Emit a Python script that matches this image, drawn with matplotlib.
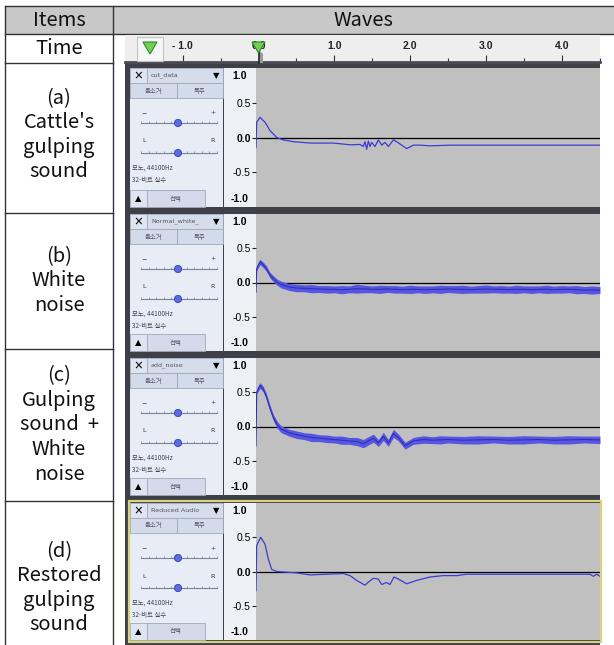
import numpy as np
import matplotlib
matplotlib.use("Agg")
import matplotlib.pyplot as plt
from matplotlib.patches import Rectangle, Circle, Polygon

plt.rcParams['font.family'] = ['Noto Sans CJK KR', 'DejaVu Sans']

W, H = 614, 645

# ---- data ----
header_items = "Items"
header_waves = "Waves"
time_label = "Time"
row_labels = ["(a)\nCattle's\ngulping\nsound",
              "(b)\nWhite\nnoise",
              "(c)\nGulping\nsound  +\nWhite\nnoise",
              "(d)\nRestored\ngulping\nsound"]
track_names = ["cut_data", "Normal_white_", "add_noise", "Reduced Audio"]

ruler_ticks = [-1, 0, 1, 2, 3, 4]
ruler_minor = [-0.5, 0.5, 1.5, 2.5, 3.5, 4.5]
ruler_labels = ["- 1.0", "0.0", "1.0", "2.0", "3.0", "4.0"]

scale_ticks = [0.5, 0.0, -0.5]
scale_labels = ["0.5", "0.0", "-0.5"]

# (a) cattle's gulping sound
t_a = [-0.033, -0.024, 0.020, 0.086, 0.152, 0.240, 0.328, 0.460, 0.679, 0.987,
       1.207, 1.339, 1.383, 1.405, 1.427, 1.449, 1.471, 1.493, 1.537, 1.581,
       1.625, 1.669, 1.713, 1.779, 1.823, 1.889, 1.955, 2.042, 2.131, 2.263,
       2.526, 4.066, 4.505]
v_a = [-0.145, 0.22, 0.29, 0.22, 0.10, 0.0, -0.035, -0.06, -0.08, -0.08,
       -0.105, -0.10, -0.13, -0.06, -0.17, -0.05, -0.13, -0.07, -0.13, -0.035,
       -0.11, -0.07, -0.13, -0.035, -0.06, -0.11, -0.16, -0.11, -0.11, -0.12,
       -0.11, -0.11, -0.11]

# (b) white noise: centre line and half width of the band
t_b = [-0.033, -0.024, 0.0, 0.02, 0.06, 0.10, 0.15, 0.20, 0.25, 0.3,
       0.4, 0.5, 0.6, 0.7, 0.8, 0.9, 1.0, 1.1, 1.2, 1.3,
       1.4, 1.5, 1.6, 1.7, 1.8, 1.9, 2.0, 2.1, 2.2, 2.3,
       2.4, 2.5, 2.6, 2.7, 2.8, 2.9, 3.0, 3.1, 3.2, 3.3,
       3.4, 3.5, 3.6, 3.7, 3.8, 3.9, 4.0, 4.1, 4.2, 4.3,
       4.4, 4.505]
v_b = [-0.14, 0.20, 0.26, 0.30, 0.26, 0.21, 0.11, 0.05, 0.0, -0.03,
       -0.065, -0.08, -0.085, -0.09, -0.095, -0.10, -0.10, -0.105, -0.10, -0.09,
       -0.095, -0.10, -0.10, -0.095, -0.10, -0.105, -0.10, -0.10, -0.105, -0.10,
       -0.10, -0.095, -0.10, -0.10, -0.105, -0.10, -0.095, -0.10, -0.10, -0.105,
       -0.10, -0.10, -0.105, -0.10, -0.10, -0.105, -0.10, -0.10, -0.105, -0.11,
       -0.11, -0.11]
w_b = [0.0, 0.03, 0.04, 0.04, 0.04, 0.04, 0.04, 0.045, 0.045, 0.05,
       0.05, 0.055, 0.05, 0.06, 0.05, 0.055, 0.05, 0.06, 0.05, 0.065,
       0.055, 0.05, 0.06, 0.05, 0.055, 0.05, 0.06, 0.05, 0.055, 0.05,
       0.06, 0.05, 0.055, 0.06, 0.05, 0.055, 0.06, 0.05, 0.055, 0.05,
       0.06, 0.05, 0.055, 0.05, 0.06, 0.05, 0.055, 0.05, 0.06, 0.05,
       0.06, 0.05]

# (c) gulping sound + white noise
t_c = [-0.033, -0.024, 0.0, 0.02, 0.06, 0.10, 0.15, 0.20, 0.25, 0.3,
       0.4, 0.5, 0.6, 0.7, 0.8, 0.9, 1.0, 1.1, 1.2, 1.3,
       1.383, 1.449, 1.515, 1.581, 1.647, 1.713, 1.779, 1.845, 1.933, 2.042,
       2.175, 2.3, 2.4, 2.5, 2.7, 2.9, 3.1, 3.3, 3.5, 3.7,
       3.9, 4.1, 4.3, 4.505]
v_c = [-0.28, 0.50, 0.56, 0.60, 0.55, 0.45, 0.27, 0.12, 0.02, -0.04,
       -0.09, -0.12, -0.14, -0.16, -0.17, -0.18, -0.19, -0.20, -0.21, -0.22,
       -0.25, -0.21, -0.17, -0.24, -0.145, -0.24, -0.10, -0.16, -0.28, -0.21,
       -0.19, -0.20, -0.195, -0.19, -0.20, -0.195, -0.19, -0.20, -0.195, -0.19,
       -0.20, -0.195, -0.19, -0.195]
w_c = [0.0, 0.03, 0.04, 0.04, 0.04, 0.045, 0.045, 0.045, 0.05, 0.05,
       0.05, 0.055, 0.05, 0.06, 0.05, 0.055, 0.05, 0.06, 0.05, 0.06,
       0.06, 0.06, 0.06, 0.05, 0.06, 0.05, 0.06, 0.05, 0.05, 0.05,
       0.055, 0.05, 0.06, 0.05, 0.055, 0.06, 0.05, 0.055, 0.06, 0.05,
       0.055, 0.06, 0.05, 0.055]

# (d) restored gulping sound
t_d = [-0.033, -0.024, 0.029, 0.086, 0.130, 0.174, 0.240, 0.504, 0.679, 1.119,
       1.207, 1.295, 1.405, 1.449, 1.515, 1.581, 1.625, 1.691, 1.735, 1.787,
       1.845, 1.955, 2.087, 2.263, 2.438, 2.614, 2.746, 4.373, 4.417, 4.46,
       4.505]
v_d = [-0.28, 0.38, 0.50, 0.40, 0.18, 0.03, 0.0, -0.02, -0.05, -0.03,
       -0.06, -0.13, -0.20, -0.155, -0.10, -0.11, -0.19, -0.16, -0.19, -0.08,
       -0.11, -0.18, -0.13, -0.08, -0.06, -0.06, -0.04, -0.04, -0.07, -0.04,
       -0.07]

# ---- layout (pixels) ----
row_lines = [63, 213, 349, 501]
label_y = [135, 281, 425, 588]
tracks = [(68, 207), (214, 351), (358, 495), (503, 640)]
x_zero, px_per_s = 258.5, 75.8


def px2t(px):
    return (px - x_zero) / px_per_s


fig = plt.figure(figsize=(W / 100, H / 100), dpi=100)
bg = fig.add_axes([0, 0, 1, 1])
bg.set_xlim(0, W)
bg.set_ylim(H, 0)
bg.axis('off')


def px_axes(x0, y0, x1, y1):
    return fig.add_axes([x0 / W, 1 - y1 / H, (x1 - x0) / W, (y1 - y0) / H])


def box(x0, y0, x1, y1, fc, ec='none', lw=0.0, z=2, ax=None):
    (ax or bg).add_patch(Rectangle((x0, y0), x1 - x0, y1 - y0, facecolor=fc,
                                   edgecolor=ec, linewidth=lw, zorder=z))


# table
line_c = '#333333'
box(5, 6, 614, 34, '#c8c8c8', z=1)
bg.plot([5, 614], [6, 6], color=line_c, lw=1, zorder=3)
bg.plot([5, 614], [34, 34], color=line_c, lw=1, zorder=3)
bg.plot([5, 5], [6, H], color=line_c, lw=1, zorder=3)
bg.plot([113, 113], [6, H], color=line_c, lw=1, zorder=3)
for y in row_lines:
    bg.plot([5, 113], [y, y], color=line_c, lw=1, zorder=3)

fs = 14.5
bg.text(59, 20, header_items, ha='center', va='center', fontsize=fs, color='#111111')
bg.text(363, 20, header_waves, ha='center', va='center', fontsize=fs, color='#111111')
bg.text(59, 49, time_label, ha='center', va='center', fontsize=fs, color='#111111')
for lab, y in zip(row_labels, label_y):
    bg.text(59, y, lab, ha='center', va='center', fontsize=fs, color='#111111',
            linespacing=1.22)

# screenshot background
box(125, 62, 600, H, '#3f3f48', z=1)

# ruler
ax_r = px_axes(125, 35, 600, 62)
ax_r.set_facecolor('#eeeeee')
ax_r.set_xlim(px2t(125), px2t(600))
ax_r.set_ylim(0, 1)
ax_r.set_xticks(ruler_ticks)
ax_r.set_xticks(ruler_minor, minor=True)
ax_r.set_yticks([])
ax_r.tick_params(axis='x', which='major', direction='in', length=5, width=0.8,
                 color='#333333', labelbottom=False)
ax_r.tick_params(axis='x', which='minor', direction='in', length=3, width=0.8,
                 color='#333333')
for s in ['top', 'left', 'right']:
    ax_r.spines[s].set_visible(False)
ax_r.spines['bottom'].set_color('#4b4b55')
ax_r.spines['bottom'].set_linewidth(2)
for t, lab in zip(ruler_ticks, ruler_labels):
    ax_r.text(t, 0.58, lab, ha='center', va='center', fontsize=7.5, fontweight='bold',
              family='Liberation Sans', color='#222222')

ctrl_edge = '#a0a8bc'
small = 4.6
for name, (T, B) in zip(track_names, tracks):
    # control panel
    box(130, T, 222.5, B, '#e7ecf5')
    box(224, T, 255.5, B, '#eef0f6')
    box(130, T, 147, T + 15, '#dfe5f0', ctrl_edge, 0.6, z=3)
    box(147, T, 222.5, T + 15, '#d5dcea', ctrl_edge, 0.6, z=3)
    bg.text(138.5, T + 7.5, "×", ha='center', va='center', fontsize=7,
            fontweight='bold', zorder=4)
    bg.text(151, T + 7.5, name, ha='left', va='center', fontsize=small,
            color='#555566', zorder=4, family='DejaVu Sans')
    bg.text(216, T + 7.5, "▼", ha='center', va='center', fontsize=6, zorder=4,
            family='DejaVu Sans')
    box(130, T + 15, 177, T + 30, '#d3dbea', ctrl_edge, 0.6, z=3)
    box(177, T + 15, 222.5, T + 30, '#d3dbea', ctrl_edge, 0.6, z=3)
    bg.text(153.5, T + 22.5, "음소거", ha='center', va='center', fontsize=small,
            color='#555566', zorder=4)
    bg.text(199.5, T + 22.5, "독주", ha='center', va='center', fontsize=small,
            color='#555566', zorder=4)
    # sliders
    for sy, left, right, ly in [(T + 55, "−", "+", T + 45), (T + 85, "L", "R", T + 73)]:
        bg.text(144, ly, left, ha='center', va='center', fontsize=small,
                color='#333333', zorder=4, family='DejaVu Sans')
        bg.text(213, ly, right, ha='center', va='center', fontsize=small,
                color='#333333', zorder=4, family='DejaVu Sans')
        bg.plot([141, 217], [sy, sy], color='#7a8296', lw=0.8, zorder=3)
        bg.vlines(np.arange(141, 218, 7.6), sy - 2, sy, color='#7a8296', lw=0.5,
                  zorder=3)
        bg.add_patch(Circle((178, sy), 3.6, facecolor='#5d6ce0',
                            edgecolor='#3040c0', lw=0.6, zorder=4))
    bg.text(132, T + 100, "모노, 44100Hz", ha='left', va='center', fontsize=small,
            color='#444455', zorder=4)
    bg.text(132, T + 112, "32-비트 실수", ha='left', va='center', fontsize=small,
            color='#444455', zorder=4)
    box(130, B - 17, 147, B, '#dfe5f0', ctrl_edge, 0.6, z=3)
    box(147, B - 17, 205, B, '#d3dbea', ctrl_edge, 0.6, z=3)
    bg.text(138.5, B - 8.5, "▲", ha='center', va='center', fontsize=6, zorder=4,
            family='DejaVu Sans')
    bg.text(176, B - 8.5, "선택", ha='center', va='center', fontsize=small,
            color='#555566', zorder=4)
    # vertical scale ends
    bg.text(240, T + 8, "1.0", ha='center', va='center', fontsize=7.5,
            fontweight='bold', family='Liberation Sans', zorder=4)
    bg.text(240, B - 8, "-1.0", ha='center', va='center', fontsize=7.5,
            fontweight='bold', family='Liberation Sans', zorder=4)

# waveforms
wave_axes = []
for T, B in tracks:
    ax = px_axes(255.5, T, 600, B)
    ax.set_facecolor('#c0c0c0')
    ax.set_xlim(px2t(255.5), px2t(600))
    ax.set_ylim(-1, 1)
    ax.set_xticks([])
    ax.set_yticks(scale_ticks)
    ax.set_yticklabels(scale_labels, family='Liberation Sans')
    ax.tick_params(axis='y', direction='out', length=3, width=0.8, pad=0.5,
                   labelsize=7.5, color='#222222')
    ax.get_yticklabels()[1].set_fontweight('bold')
    for s in ax.spines.values():
        s.set_visible(False)
    ax.axhline(0, color='black', lw=0.9, zorder=1)
    wave_axes.append(ax)

wave_c = '#3c3cd4'
band_c = '#5656e2'
wave_axes[0].plot(t_a, v_a, color=wave_c, lw=0.9, zorder=3)

tb, vb, wb = np.array(t_b), np.array(v_b), np.array(w_b)
wave_axes[1].fill_between(tb, vb - wb, vb + wb, color=band_c, lw=0, zorder=2)
wave_axes[1].plot(tb, vb, color='#2f2fb8', lw=0.8, zorder=3)

tc, vc, wc = np.array(t_c), np.array(v_c), np.array(w_c)
wave_axes[2].fill_between(tc, vc - wc, vc + wc, color=band_c, lw=0, zorder=2)
wave_axes[2].plot(tc, vc, color='#2f2fb8', lw=0.8, zorder=3)

wave_axes[3].plot(t_d, v_d, color=wave_c, lw=0.9, zorder=3)

# overlay: ruler triangles, playhead and selection border
top = fig.add_axes([0, 0, 1, 1])
top.set_xlim(0, W)
top.set_ylim(H, 0)
top.axis('off')
top.set_facecolor('none')
box(137, 37, 163, 61, '#f6f6f6', '#c4c4c4', 0.8, ax=top)
top.add_patch(Polygon([(143, 42), (157, 42), (150, 54)], closed=True,
                      facecolor='#72d052', edgecolor='#2a8a2a', lw=0.8, zorder=4))
top.add_patch(Polygon([(259, 50), (263, 54), (263, 63), (259, 63)], closed=True,
                      facecolor='#9a9a9a', edgecolor='none', zorder=3))
top.plot([258.5, 258.5], [48, 63], color='#222222', lw=1.2, zorder=4)
top.add_patch(Polygon([(252, 42), (265, 42), (258.5, 53)], closed=True,
                      facecolor='#72d052', edgecolor='#2a8a2a', lw=0.8, zorder=5))
top.add_patch(Rectangle((128.5, 501), 472, 141, facecolor='none',
                        edgecolor='#d8d27a', lw=1.6, zorder=5))

fig.savefig('out.png', dpi=100)
